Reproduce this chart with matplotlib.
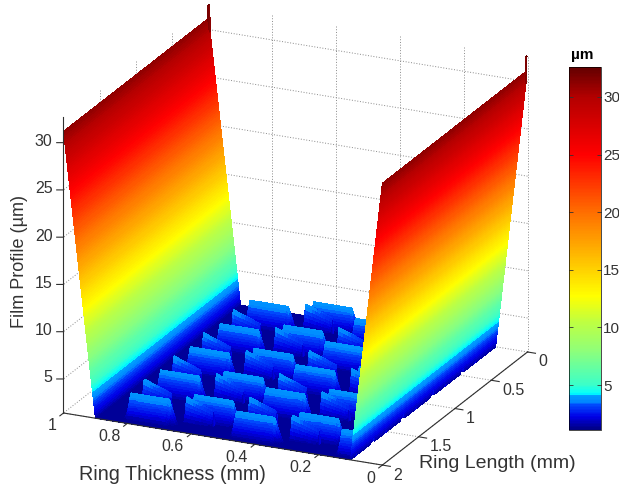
import numpy as np
import matplotlib
matplotlib.use("Agg")
import matplotlib.pyplot as plt
from matplotlib.colors import LinearSegmentedColormap, Normalize
from matplotlib.cm import ScalarMappable
from mpl_toolkits.mplot3d import proj3d

plt.rcParams['font.family'] = ['Liberation Sans', 'DejaVu Sans']

W, H = 619, 486
TEXT = '#333333'

# axis ranges and ticks
x_lim = (0.0, 1.0)
y_lim = (0.0, 2.0)
z_lim = (1.4, 32.7)
x_ticks = [0, 0.2, 0.4, 0.6, 0.8, 1]
x_tick_labels = ['0', '0.2', '0.4', '0.6', '0.8', '1']
y_ticks = [0, 0.5, 1, 1.5, 2]
y_tick_labels = ['0', '0.5', '1', '1.5', '2']
z_ticks = [5, 10, 15, 20, 25, 30]
bar_ticks = [5, 10, 15, 20, 25, 30]
bar_lim = (1.1, 32.6)

# colormap (z value, colour)
cmap_z = [1.1, 2.2, 3.3, 3.35, 4.1, 4.2, 5.0, 8.0, 10.5, 12.7, 16.0, 20.0, 25.0, 30.0, 32.6]
cmap_rgb = ['#000082', '#0000e6', '#0050ff', '#0080ff', '#00a0ff', '#00ffff', '#3cffc8',
            '#90ff78', '#c0ff40', '#ffff00', '#ffbe00', '#ff6e00', '#ff0000', '#b40000', '#640000']

# film profile: rail edges (thickness -> height)
rail_x = [0.0, 0.1, 0.9, 1.0]
rail_z = [31.2, 1.4, 1.4, 31.2]
spike_y = 0.012
spike_z = 32.7

# texture blocks, one column per entry
col_left_x = [0.823, 0.653, 0.490, 0.320, 0.155]
col_front_y = [
    [1.95, 1.54, 1.13, 0.72, 0.31],
    [1.82, 1.41, 1.00, 0.59, 0.18],
    [1.96, 1.55, 1.14, 0.73, 0.32],
    [1.83, 1.42, 1.01, 0.60, 0.19],
    [1.97, 1.56, 1.15, 0.74, 0.33],
]
col_wedge_dy = [0.16, 0.04, 0.16, 0.04, 0.16]
block_width = 0.157
block_ramp = 0.045
block_back = 0.02
block_top = 3.95
wedge_top = 3.95
wedge_low = 2.9
wedge_width = 0.085
wedge_ramp = 0.03

cmap = LinearSegmentedColormap.from_list(
    'film',
    [((z - bar_lim[0]) / (bar_lim[1] - bar_lim[0]), c) for z, c in zip(cmap_z, cmap_rgb)],
    N=256,
)
norm = Normalize(*bar_lim)

# height map, finer across the rails so their colour ramp stays smooth
xs = np.concatenate([np.linspace(0, 0.1, 130), np.linspace(0.1, 0.9, 260)[1:], np.linspace(0.9, 1, 130)[1:]])
ys = np.linspace(*y_lim, 451)
X, Y = np.meshgrid(xs, ys)
Z = np.interp(X, rail_x, rail_z)
Z[(Y <= spike_y) & ((X <= 0.004) | (X >= 0.996))] = spike_z

for left, fronts, w_dy in zip(col_left_x, col_front_y, col_wedge_dy):
    for front in fronts:
        fx = np.clip(np.minimum((X - (left - block_width)) / 0.025, (left - X) / 0.012), 0, 1)
        fx = np.minimum(fx, np.clip((X - 0.1) / 0.005, 0, 1))
        fy = np.clip(np.minimum((front - Y) / block_ramp, (Y - (front - block_ramp - block_back)) / 0.012), 0, 1)
        Z = np.maximum(Z, rail_z[1] + (block_top - rail_z[1]) * fx * fy)
        # slanted sliver next to the block
        wy = front + w_dy
        t = np.clip((left - X) / wedge_width, 0, 1)
        wf = np.clip(np.minimum((wy - Y) / wedge_ramp, (Y - (wy - wedge_ramp - 0.02)) / 0.012), 0, 1)
        inside = (X <= left) & (X >= left - wedge_width) & (X >= 0.1)
        wedge_z = rail_z[1] + (wedge_top + (wedge_low - wedge_top) * t - rail_z[1]) * wf
        Z = np.where(inside, np.maximum(Z, wedge_z), Z)

fig = plt.figure(figsize=(W / 100, H / 100), dpi=100)
ax = fig.add_axes([-0.5, -0.5, 2, 2], projection='3d', proj_type='ortho', computed_zorder=False)
ax.set_xlim(*x_lim, view_margin=0)
ax.set_ylim(*y_lim, view_margin=0)
ax.set_zlim(*z_lim, view_margin=0)
ax.set_xticks([])
ax.set_yticks([])
ax.set_zticks([])
ax.view_init(elev=20.9, azim=114.6)
aspect = (351, 349, 317)
ax.set_box_aspect(aspect, zoom=1)
ax.set_axis_off()
ax.patch.set_alpha(0)


def to_px(x, y, z):
    px, py, _ = proj3d.proj_transform(x, y, z, ax.get_proj())
    return ax.transData.transform((px, py))


def label_at(x, y, z, dx, dy, s, ha):
    p = to_px(x, y, z)
    fig.text((p[0] + dx) / W, (p[1] - dy) / H, s, fontsize=11.5, ha=ha, va='center', color=TEXT)


# scale and move the axes so the floor corners land where the reference has them
fig.canvas.draw()
a = to_px(1, 2, z_lim[0])
b = to_px(0, 0, z_lim[0])
ax.set_box_aspect(aspect, zoom=(527 - 63) / (b[0] - a[0]))
fig.canvas.draw()
a = to_px(1, 2, z_lim[0])
pos = ax.get_position()
ax.set_position([pos.x0 + (63.5 - a[0]) / W, pos.y0 + ((H - 413) - a[1]) / H, pos.width, pos.height])
fig.canvas.draw()

grid = dict(color='#8a8a8a', ls=(0, (1, 1.8)), lw=0.7, zorder=1)
z0, z1 = z_lim
for t in x_ticks:
    ax.plot([t, t], [0, 0], [z0, z1], **grid)
    ax.plot([t, t], [0, 2], [z0, z0], **grid)
for t in y_ticks:
    ax.plot([1, 1], [t, t], [z0, z1], **grid)
    ax.plot([0, 1], [t, t], [z0, z0], **grid)
for t in z_ticks:
    ax.plot([0, 1], [0, 0], [t, t], **grid)
    ax.plot([1, 1], [0, 2], [t, t], **grid)

ax.plot_surface(X, Y, Z, rstride=1, cstride=1, cmap=cmap, norm=norm, linewidth=0,
                antialiased=False, shade=False, zorder=2)

axis_kw = dict(color='#303030', lw=0.8, zorder=3)
ax.plot([0, 1], [2, 2], [z0, z0], **axis_kw)
ax.plot([0, 0], [0, 2], [z0, z0], **axis_kw)
ax.plot([1, 1], [2, 2], [z0, z1], **axis_kw)
for t in x_ticks:
    ax.plot([t, t], [2, 2.05], [z0, z0], **axis_kw)
for t in y_ticks:
    ax.plot([0, -0.025], [t, t], [z0, z0], **axis_kw)
for t in z_ticks:
    ax.plot([1, 1.0176], [2, 2.0162], [t, t], **axis_kw)

for t, s in zip(x_ticks, x_tick_labels):
    label_at(t, 2, z0, -7, 13, s, 'right')
for t, s in zip(y_ticks, y_tick_labels):
    label_at(0, t, z0, 11, 10, s, 'left')
for t in z_ticks:
    label_at(1, 2, t, -11, -1, str(t), 'right')

fig.text(20 / W, 1 - 262 / H, 'Film Profile (µm)', rotation=90, fontsize=13, ha='center', va='center', color=TEXT)
fig.text(172.5 / W, 1 - 474 / H, 'Ring Thickness (mm)', fontsize=14.2, ha='center', va='center', color=TEXT)
fig.text(497 / W, 1 - 463 / H, 'Ring Length (mm)', fontsize=14, ha='center', va='center', color=TEXT)

cax = fig.add_axes([569 / W, 1 - 430 / H, 32 / W, 363 / H])
cb = fig.colorbar(ScalarMappable(norm=norm, cmap=cmap), cax=cax)
cb.set_ticks(bar_ticks)
cb.ax.tick_params(labelsize=11, length=3, width=0.6, direction='in', colors=TEXT, pad=1.5, left=True, right=True)
cb.outline.set_linewidth(0.5)
fig.text(582 / W, 1 - 55 / H, 'µm', fontsize=11, fontweight='bold', ha='center', va='center')

fig.savefig('out.png', dpi=100)
